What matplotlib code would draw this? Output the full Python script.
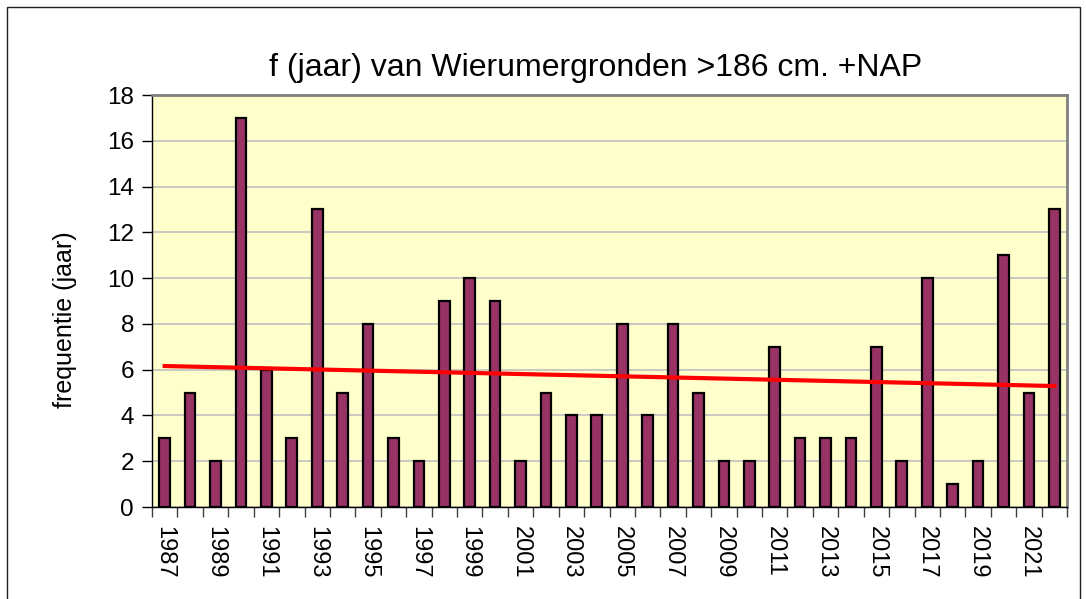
import numpy as np
import matplotlib.pyplot as plt
from matplotlib.patches import Rectangle

plt.rcParams['font.family'] = ['Liberation Sans', 'DejaVu Sans']

years = list(range(1987, 2023))
freq = [3, 5, 2, 17, 6, 3, 13, 5, 8, 3,
        2, 9, 10, 9, 2, 5, 4, 4, 8, 4,
        8, 5, 2, 2, 7, 3, 3, 3, 7, 2,
        10, 1, 2, 11, 5, 13]

x = np.arange(len(years))

fig = plt.figure(figsize=(10.86, 5.99), dpi=100)
ax = fig.add_axes([152 / 1086, 1 - 507 / 599, (1067 - 152) / 1086, (507 - 95) / 599])
ax.set_facecolor('#ffffcc')

ax.bar(x, freq, width=0.42, color='#993366', edgecolor='black', linewidth=1.6, zorder=3)

# linear trendline (as in Excel)
coef = np.polyfit(x, freq, 1)
ax.plot([x[0], x[-1]], np.polyval(coef, [x[0], x[-1]]), color='#ff0000', linewidth=3, zorder=4)

ax.set_xlim(-0.5, len(years) - 0.5)
ax.set_ylim(0, 18)
ax.set_yticks(range(0, 19, 2))
ax.yaxis.grid(True, color='#c0c0c0', linewidth=1.2, zorder=0)
ax.tick_params(axis='y', labelsize=17.5, length=7, width=1, pad=6)

# tick marks between categories, labels every second year
ax.set_xticks(np.arange(-0.5, len(years), 1), minor=True)
ax.set_xticks(x[::2])
ax.set_xticklabels([str(y) for y in years[::2]], rotation=270, fontsize=17)
ax.tick_params(axis='x', which='major', length=0, pad=14)
ax.tick_params(axis='x', which='minor', length=7, width=1, color='#404040')

for s in ['top', 'right']:
    ax.spines[s].set_color('#808080')
    ax.spines[s].set_linewidth(2)
for s in ['left', 'bottom']:
    ax.spines[s].set_color('black')
    ax.spines[s].set_linewidth(1)

ax.set_ylabel('frequentie (jaar)', fontsize=18, va='center')
ax.yaxis.set_label_coords((65 - 152) / 915, (507 - 320) / 412)

fig.text(596 / 1086, 1 - 76 / 599, 'f (jaar) van Wierumergronden >186 cm. +NAP',
         fontsize=23, ha='center', va='baseline')

# outer chart frame
fig.patches.append(Rectangle((7 / 1086, -0.05), 1073 / 1086, 1 - 7 / 599 + 0.05,
                             transform=fig.transFigure, fill=False,
                             edgecolor='#202020', linewidth=1))

fig.savefig('out.png', dpi=100)
